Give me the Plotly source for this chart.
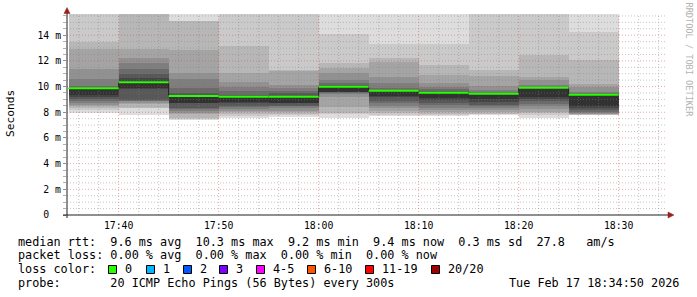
import plotly.graph_objects as go
import pandas as pd
import numpy as np

# ---------------- data ----------------
slot_start = ["2026-02-17 17:35", "2026-02-17 17:40", "2026-02-17 17:45", "2026-02-17 17:50",
              "2026-02-17 17:55", "2026-02-17 18:00", "2026-02-17 18:05", "2026-02-17 18:10",
              "2026-02-17 18:15", "2026-02-17 18:20", "2026-02-17 18:25"]
slot_minutes = 5
median_ms = [9.86, 10.33, 9.26, 9.2, 9.2, 9.98, 9.67, 9.52, 9.44, 9.9, 9.36]
# 20 sorted ping RTTs (ms) per 5-minute slot
sorted_pings_ms = [
    [7.95, 8.15, 8.3, 8.45, 8.55, 8.7, 8.85, 9.0, 9.2, 9.35, 9.88, 9.9, 9.95, 10.04, 10.6, 11.4, 12.95, 13.45, 16.0, 17.0],
    [7.8, 8.3, 8.35, 8.65, 8.75, 8.85, 8.9, 8.95, 9.83, 9.85, 10.45, 10.63, 11.0, 11.4, 11.8, 12.2, 12.95, 16.0, 17.0, 18.0],
    [7.4, 7.5, 7.55, 7.9, 7.95, 8.1, 8.25, 8.3, 8.7, 8.72, 9.28, 9.35, 9.47, 9.86, 10.58, 11.02, 12.83, 15.08, 15.1, 16.5],
    [7.53, 7.7, 7.9, 8.0, 8.1, 8.25, 8.4, 8.5, 8.7, 8.76, 9.23, 9.28, 9.35, 9.65, 9.95, 10.37, 11.02, 13.14, 16.0, 17.0],
    [7.66, 7.8, 7.9, 8.0, 8.1, 8.3, 8.45, 8.5, 8.72, 8.75, 9.23, 9.3, 9.47, 9.65, 9.9, 10.12, 11.25, 11.28, 16.0, 17.0],
    [7.55, 7.9, 7.92, 8.43, 9.2, 9.4, 9.5, 9.55, 9.58, 9.6, 10.0, 10.05, 10.15, 10.3, 10.5, 11.02, 11.41, 11.8, 14.07, 17.0],
    [7.68, 7.8, 7.95, 8.1, 8.3, 8.45, 8.7, 8.85, 9.15, 9.3, 9.68, 9.7, 9.75, 9.86, 10.3, 10.76, 11.9, 12.19, 13.35, 17.0],
    [7.7, 7.8, 7.9, 8.05, 8.2, 8.35, 8.55, 8.7, 8.95, 9.1, 9.54, 9.58, 9.65, 9.8, 9.94, 10.25, 10.89, 11.67, 13.35, 17.0],
    [7.8, 7.85, 7.9, 8.0, 8.15, 8.3, 8.45, 8.6, 8.8, 9.0, 9.46, 9.48, 9.52, 9.6, 9.75, 10.04, 10.81, 11.28, 16.0, 17.0],
    [7.55, 7.75, 7.95, 8.05, 8.25, 8.45, 8.65, 8.85, 9.0, 9.16, 9.92, 9.94, 9.96, 10.0, 10.12, 10.5, 10.76, 12.45, 16.0, 17.0],
    [7.78, 7.8, 7.82, 7.85, 7.9, 7.98, 8.05, 8.18, 8.3, 8.45, 9.38, 9.4, 9.42, 9.5, 9.6, 9.95, 10.2, 12.1, 14.25, 17.0],
]
y_tick_vals = [0, 2, 4, 6, 8, 10, 12, 14]
y_tick_text = ["0\u00a0\u00a0", "2 m", "4 m", "6 m", "8 m", "10 m", "12 m", "14 m"]
x_tick_labels = ["17:40", "17:50", "18:00", "18:10", "18:20", "18:30"]
loss_labels = ["0", "1", "2", "3", "4-5", "6-10", "11-19", "20/20"]
loss_colors = ["#26ff00", "#00b8ff", "#0059ff", "#7e00ff", "#ff00ff", "#ff5500", "#ff0000", "#a00000"]
legend_rows = [
    "median rtt:  9.6 ms avg  10.3 ms max  9.2 ms min  9.4 ms now  0.3 ms sd  27.8   am/s",
    "packet loss: 0.00 % avg  0.00 % max  0.00 % min  0.00 % now",
    "loss color:",
    "probe:       20 ICMP Echo Pings (56 Bytes) every 300s",
]
stamp_text = "Tue Feb 17 18:34:50 2026"
x_start = "2026-02-17 17:34:50"
x_end = "2026-02-17 18:34:50"
y_max = 15.65

# ---------------- geometry helpers ----------------
W, H = 697, 297
L, R, T, B = 67, 30, 14, 82
PW, PH = W - L - R, H - T - B
def px(x):
    return (x - L) / PW
def py(y):
    return (T + PH - y) / PH

MONO = "DejaVu Sans Mono"
def nb(s):
    return s.replace(" ", "\u00a0")

starts = pd.to_datetime(slot_start)
step = pd.Timedelta(minutes=slot_minutes)
centers = starts + step / 2
ends = starts + step
pings = np.array(sorted_pings_ms)
n = pings.shape[1]
half = n // 2

fig = go.Figure()

# smoke bands (outer to inner)
for k in range(half):
    g = int(190 / half * (half - (k + 1))) + 50
    col = "#%02x%02x%02x" % (g, g, g)
    base = pings[:, k]
    top = pings[:, n - 1 - k]
    fig.add_trace(go.Bar(x=centers, y=top - base, base=base, width=step.total_seconds() * 1000,
                         marker=dict(color=col, line=dict(width=0)), hoverinfo="skip",
                         showlegend=False))

# grid (drawn above smoke, below median)
xs0, xs1 = pd.Timestamp(x_start), pd.Timestamp(x_end)
minor_y = [v for v in np.arange(0.5, y_max, 0.5) if v % 2 != 0]
major_y = [v for v in np.arange(2, y_max, 2)]
major_t = pd.to_datetime(["2026-02-17 " + t for t in x_tick_labels])
minor_t = [t for t in pd.date_range("2026-02-17 17:36", "2026-02-17 18:34", freq="2min") if t.minute % 10 != 0]

def hlines(vals):
    xx, yy = [], []
    for v in vals:
        xx += [xs0, xs1, None]
        yy += [v, v, None]
    return xx, yy
def vlines(vals):
    xx, yy = [], []
    for v in vals:
        xx += [v, v, None]
        yy += [0, y_max, None]
    return xx, yy

for (fn, vals, colr) in [(hlines, minor_y, "rgba(128,128,128,0.45)"), (vlines, minor_t, "rgba(128,128,128,0.45)"),
                         (hlines, major_y, "rgba(210,60,60,0.45)"), (vlines, major_t, "rgba(210,60,60,0.45)")]:
    xx, yy = fn(vals)
    fig.add_trace(go.Scatter(x=xx, y=yy, mode="lines", line=dict(color=colr, width=1, dash="1px,2px"),
                             hoverinfo="skip", showlegend=False, cliponaxis=True))

# median step line (dark) and loss-coloured segments
fig.add_trace(go.Scatter(x=list(starts) + [ends[-1]], y=median_ms + [median_ms[-1]], mode="lines",
                         line=dict(color="#202020", width=1, shape="hv"), hoverinfo="skip", showlegend=False))
gx, gy = [], []
for s, e, m in zip(starts, ends, median_ms):
    gx += [s, e, None]
    gy += [m, m, None]
fig.add_trace(go.Scatter(x=gx, y=gy, mode="lines", line=dict(color=loss_colors[0], width=2),
                         hoverinfo="skip", showlegend=False))

# ---------------- layout ----------------
shapes = []
axis_col = "#202020"
arrow_col = "#9b2020"
shapes.append(dict(type="line", xref="paper", yref="paper", x0=px(63), x1=px(669), y0=0, y1=0,
                   line=dict(color=axis_col, width=1), layer="above"))
shapes.append(dict(type="line", xref="paper", yref="paper", x0=0, x1=0, y0=py(218), y1=py(11),
                   line=dict(color=axis_col, width=1), layer="above"))
shapes.append(dict(type="path", xref="paper", yref="paper",
                   path="M %f,%f L %f,%f L %f,%f Z" % (px(668), py(212), px(674), py(215), px(668), py(218)),
                   fillcolor=arrow_col, line=dict(color=arrow_col, width=0.5), layer="above"))
shapes.append(dict(type="path", xref="paper", yref="paper",
                   path="M %f,%f L %f,%f L %f,%f Z" % (px(64), py(13.5), px(67), py(7.5), px(70), py(13.5)),
                   fillcolor=arrow_col, line=dict(color=arrow_col, width=0.5), layer="above"))

annotations = []
row_y = [241.5, 255.2, 269, 282.7]
for txt, yy in zip(legend_rows, row_y):
    annotations.append(dict(text=nb(txt), xref="paper", yref="paper", x=px(16), y=py(yy),
                            xanchor="left", yanchor="middle", showarrow=False,
                            font=dict(family=MONO, size=11.8, color="#000000")))
annotations.append(dict(text=nb(stamp_text), xref="paper", yref="paper", x=px(681), y=py(row_y[3]),
                        xanchor="right", yanchor="middle", showarrow=False,
                        font=dict(family=MONO, size=11.8, color="#000000")))
box_x = [108, 146, 183, 219, 256, 307, 365, 431]
for bx, lab, colr in zip(box_x, loss_labels, loss_colors):
    shapes.append(dict(type="rect", xref="paper", yref="paper", x0=px(bx + 0.5), x1=px(bx + 8.5),
                       y0=py(273.5), y1=py(265.5), fillcolor=colr, line=dict(color="#000000", width=1)))
    annotations.append(dict(text=nb(lab), xref="paper", yref="paper", x=px(bx + 14.5), y=py(row_y[2]),
                            xanchor="left", yanchor="middle", showarrow=False,
                            font=dict(family=MONO, size=11.8, color="#000000")))
annotations.append(dict(text="Seconds", xref="paper", yref="paper", x=px(10.5), y=py(113.5), textangle=-90,
                        xanchor="center", yanchor="middle", showarrow=False,
                        font=dict(family=MONO, size=11.2, color="#000000")))
annotations.append(dict(text=nb("RRDTOOL / TOBI OETIKER"), xref="paper", yref="paper", x=px(688.5), y=py(60),
                        textangle=90, xanchor="center", yanchor="middle", showarrow=False,
                        font=dict(family=MONO, size=8.6, color="#b4b4b4")))

fig.update_layout(
    width=W, height=H, autosize=False,
    margin=dict(l=L, r=R, t=T, b=B, pad=0),
    paper_bgcolor="#ffffff", plot_bgcolor="#ffffff",
    barmode="overlay", bargap=0, showlegend=False,
    shapes=shapes, annotations=annotations,
    xaxis=dict(type="date", range=[x_start, x_end], showgrid=False, zeroline=False, showline=False,
               tickmode="array", tickvals=major_t, ticktext=x_tick_labels, ticks="",
               ticklabelstandoff=3,
               tickfont=dict(family=MONO, size=9.8, color="#000000"), fixedrange=True),
    yaxis=dict(range=[0, y_max], showgrid=False, zeroline=False, showline=False,
               tickmode="array", tickvals=y_tick_vals, ticktext=y_tick_text,
               ticks="outside", ticklen=3, tickcolor="#909090",
               minor=dict(tickvals=list(np.arange(0.5, y_max, 0.5)), ticks="outside", ticklen=3,
                          tickcolor="#b0b0b0", showgrid=False),
               tickfont=dict(family=MONO, size=9.8, color="#000000"), fixedrange=True),
)

fig.write_html("out.html")
